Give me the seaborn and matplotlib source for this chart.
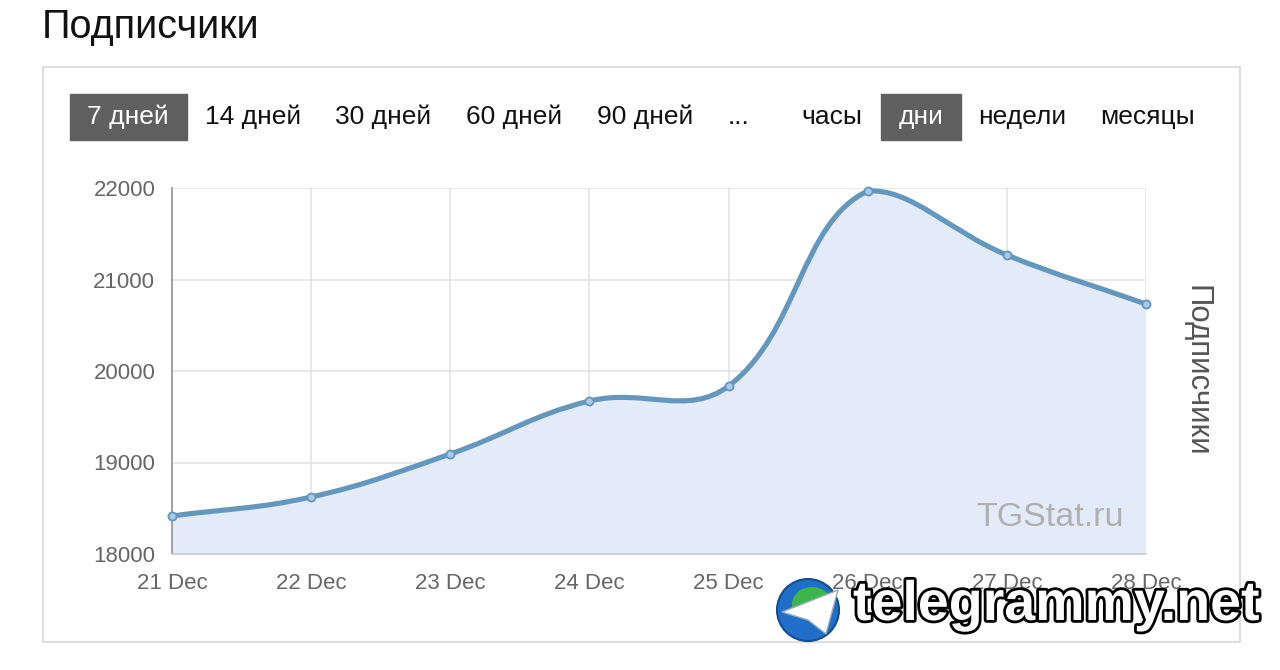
import numpy as np
import matplotlib
matplotlib.use('Agg')
import matplotlib.pyplot as plt
import matplotlib.patches as mpatches
import matplotlib.patheffects as pe
from matplotlib.path import Path
import seaborn as sns

sns.set_style('white')
plt.rcParams['font.family'] = ['Liberation Sans', 'DejaVu Sans']

# data
days = ['21 Dec', '22 Dec', '23 Dec', '24 Dec', '25 Dec', '26 Dec', '27 Dec', '28 Dec']
subscribers = [18415, 18623, 19093, 19672, 19836, 21967, 21268, 20732]
y_ticks = [18000, 19000, 20000, 21000, 22000]
periods = ['7 дней', '14 дней', '30 дней', '60 дней', '90 дней', '...']
units = ['часы', 'дни', 'недели', 'месяцы']

W, H = 1280, 670
LINE = '#6497bd'
FILL = '#e3ebf8'
GRID = '#e4e4e4'


def fx(x):
    return x / W


def fy(y):
    return 1 - y / H


def spline_segments(xs, ys, sx, sy, ymin, ymax, t=0.4):
    # chart.js style bezier control points, computed in pixel space
    px = np.asarray(xs, float) * sx
    py = np.asarray(ys, float) * sy
    n = len(px)
    ctrl = []
    for i in range(n):
        a, b = max(i - 1, 0), min(i + 1, n - 1)
        d01 = np.hypot(px[i] - px[a], py[i] - py[a])
        d12 = np.hypot(px[b] - px[i], py[b] - py[i])
        tot = d01 + d12
        s01 = d01 / tot if tot else 0
        s12 = d12 / tot if tot else 0
        dx, dy = px[b] - px[a], py[b] - py[a]
        prev = (px[i] - t * s01 * dx, py[i] - t * s01 * dy)
        nxt = (px[i] + t * s12 * dx, py[i] + t * s12 * dy)
        ctrl.append((prev, nxt))
    verts = [(xs[0], ys[0])]
    codes = [Path.MOVETO]
    for i in range(n - 1):
        c1 = ctrl[i][1]
        c2 = ctrl[i + 1][0]
        c1y = min(max(c1[1] / sy, ymin), ymax)
        c2y = min(max(c2[1] / sy, ymin), ymax)
        verts += [(c1[0] / sx, c1y), (c2[0] / sx, c2y), (xs[i + 1], ys[i + 1])]
        codes += [Path.CURVE4] * 3
    return verts, codes


fig = plt.figure(figsize=(12.8, 6.7), dpi=100)

# title and outer panel
fig.text(fx(42), fy(27), 'Подписчики', fontsize=28.5, color='#111111', va='center', ha='left')
fig.patches.append(mpatches.Rectangle((fx(43), fy(642)), fx(1240 - 43), (642 - 67) / H,
                                      transform=fig.transFigure, fill=False,
                                      edgecolor='#dddddd', lw=1.5))

# period / unit buttons
period_x = [128, 253, 383, 514, 645, 739]
unit_x = [832, 921, 1022, 1148]
fig.patches.append(mpatches.Rectangle((fx(70), fy(140)), fx(187 - 70), 46 / H,
                                      transform=fig.transFigure, color='#5f5f5f'))
fig.patches.append(mpatches.Rectangle((fx(881), fy(140)), fx(961 - 881), 46 / H,
                                      transform=fig.transFigure, color='#5f5f5f'))
for i, (lab, x) in enumerate(zip(periods, period_x)):
    fig.text(fx(x), fy(117), lab, fontsize=19, ha='center', va='center',
             color='white' if i == 0 else '#111111')
for lab, x in zip(units, unit_x):
    fig.text(fx(x), fy(117), lab, fontsize=19, ha='center', va='center',
             color='white' if lab == 'дни' else '#111111')

# chart
ax = fig.add_axes([fx(172), fy(554), fx(1146 - 172), (554 - 188) / H])
xs = np.arange(len(days))
ax.set_xlim(0, len(days) - 1)
ax.set_ylim(y_ticks[0], y_ticks[-1])

sx = (1146 - 172) / (len(days) - 1)
sy = (554 - 188) / (y_ticks[-1] - y_ticks[0])
verts, codes = spline_segments(xs, subscribers, sx, sy, y_ticks[0], y_ticks[-1])

fill_verts = verts + [(xs[-1], y_ticks[0]), (xs[0], y_ticks[0]), verts[0]]
fill_codes = codes + [Path.LINETO, Path.LINETO, Path.CLOSEPOLY]
ax.add_patch(mpatches.PathPatch(Path(fill_verts, fill_codes), facecolor=FILL,
                                edgecolor='none', zorder=1))
ax.add_patch(mpatches.PathPatch(Path(verts, codes), facecolor='none', edgecolor=LINE,
                                lw=3.7, capstyle='round', joinstyle='round', zorder=3))
sns.scatterplot(x=xs, y=subscribers, ax=ax, s=34, color='#a9c8ec', edgecolor=LINE,
                linewidth=1.3, zorder=4, clip_on=False)

ax.set_xticks(xs)
ax.set_xticklabels(days)
ax.set_yticks(y_ticks)
ax.set_yticklabels([str(v) for v in y_ticks])
ax.grid(True, color=GRID, lw=1.2, zorder=0)
ax.set_axisbelow(True)
ax.tick_params(axis='both', length=8, width=1.2, color=GRID, labelsize=16,
               labelcolor='#666666', pad=4)
ax.tick_params(axis='x', pad=6)
for side in ['top', 'right']:
    ax.spines[side].set_visible(False)
ax.spines['left'].set_color('#9a9a9a')
ax.spines['left'].set_linewidth(1.3)
ax.spines['bottom'].set_color('#cfcfcf')
ax.spines['bottom'].set_linewidth(1.3)
ax.set_xlabel('')
ax.set_ylabel('')

fig.text(fx(1197), fy(371), 'Подписчики', fontsize=22.5, color='#555555', rotation=-90,
         ha='center', va='center')
fig.text(fx(1124), fy(517), 'TGStat.ru', fontsize=24.5, color='#b0b0b0', ha='right',
         va='center')

# telegrammy.net overlay watermark
cx, cy, r = 808, 610, 31
fig.patches.append(mpatches.Ellipse((fx(cx), fy(cy)), 2 * r / W, 2 * r / H,
                                    transform=fig.transFigure, facecolor='#1f6fc9',
                                    edgecolor='#124c93', lw=1.5, zorder=10))
fig.patches.append(mpatches.Ellipse((fx(cx + 4), fy(cy - 6)), 40 / W, 34 / H,
                                    transform=fig.transFigure, facecolor='#3db54a',
                                    edgecolor='none', zorder=10))
plane = [(782, 612), (838, 590), (826, 634), (808, 620)]
fig.patches.append(mpatches.Polygon([(fx(a), fy(b)) for a, b in plane],
                                    transform=fig.transFigure, facecolor='white',
                                    edgecolor='#9ab', lw=1, zorder=11))
fig.text(fx(853), fy(606), 'telegrammy.net', fontsize=40, fontweight='bold', color='white',
         ha='left', va='center', zorder=12,
         path_effects=[pe.withStroke(linewidth=4, foreground='black')])

fig.savefig('out.png', dpi=100)
